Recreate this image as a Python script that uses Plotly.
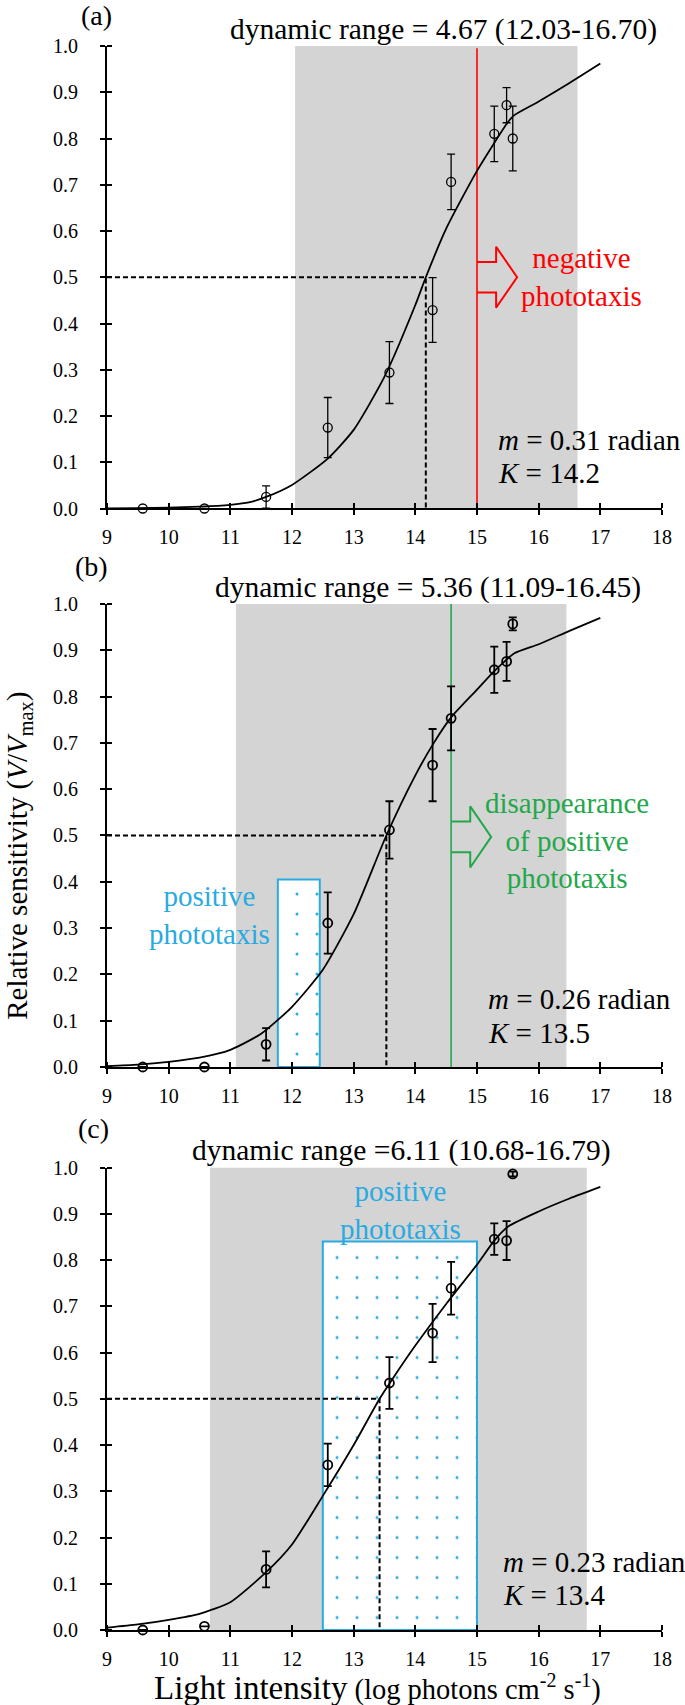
import plotly.graph_objects as go

FONT = "Liberation Serif, Times New Roman, serif"
CYAN = "#29ABE2"
GREEN = "#22A84A"
RED = "#FF0000"
GRAY = "#D4D4D4"

# ---------------- data ----------------
intensity = [9.58, 10.58, 11.58, 12.58, 13.58, 14.28, 14.58, 15.28, 15.48, 15.58]

sens_a = [0.0, 0.0, 0.025, 0.175, 0.294, 0.429, 0.706, 0.81, 0.872, 0.80]
err_a = [0.0, 0.0, 0.024, 0.065, 0.067, 0.07, 0.06, 0.06, 0.038, 0.07]
sens_b = [0.0, 0.0, 0.049, 0.311, 0.512, 0.652, 0.753, 0.858, 0.876, 0.957]
err_b = [0.0, 0.0, 0.035, 0.066, 0.062, 0.078, 0.069, 0.05, 0.042, 0.014]
sens_c = [0.0, 0.008, 0.131, 0.357, 0.534, 0.642, 0.739, 0.845, 0.842, 0.986]
err_c = [0.0, 0.0, 0.039, 0.046, 0.056, 0.063, 0.057, 0.034, 0.042, 0.005]

fit_x_a = [9.0, 9.5, 10.0, 10.5, 11.0, 11.3, 11.58, 12.0, 12.58, 13.0, 13.5, 14.0, 14.17, 14.5, 15.0, 15.5, 15.6, 16.0, 16.5, 17.0]
fit_y_a = [0.000, 0.001, 0.002, 0.004, 0.008, 0.013, 0.025, 0.051, 0.108, 0.17, 0.285, 0.44, 0.50, 0.605, 0.73, 0.835, 0.85, 0.88, 0.92, 0.962]
fit_x_b = [9.0, 9.5, 10.0, 10.5, 11.0, 11.5, 12.0, 12.5, 13.0, 13.53, 14.0, 14.3, 14.58, 15.0, 15.28, 15.6, 16.0, 16.5, 17.0]
fit_y_b = [0.002, 0.005, 0.011, 0.02, 0.037, 0.072, 0.13, 0.21, 0.33, 0.50, 0.63, 0.70, 0.755, 0.815, 0.855, 0.893, 0.913, 0.942, 0.97]
fit_x_c = [9.0, 9.5, 10.0, 10.5, 11.0, 11.58, 12.0, 12.5, 13.0, 13.42, 13.6, 14.0, 14.5, 15.0, 15.28, 15.5, 16.0, 16.5, 17.0]
fit_y_c = [0.005, 0.012, 0.022, 0.035, 0.06, 0.125, 0.185, 0.29, 0.40, 0.50, 0.537, 0.615, 0.705, 0.79, 0.842, 0.872, 0.905, 0.933, 0.958]

K_values = [14.17, 13.53, 13.42]
m_values = [0.31, 0.26, 0.23]
dr_text = ["dynamic range = 4.67 (12.03-16.70)",
           "dynamic range = 5.36 (11.09-16.45)",
           "dynamic range =6.11 (10.68-16.79)"]
shade_lo = [12.05, 11.09, 10.67]
shade_hi = [16.63, 16.45, 16.78]
panel_labels = ["(a)", "(b)", "(c)"]

threshold_neg = 15.0      # panel a, negative phototaxis
threshold_dis = 14.58     # panel b, disappearance of positive phototaxis
pos_lo = [11.77, 12.5]    # positive phototaxis ranges (panel b, c)
pos_hi = [12.45, 15.0]
pos_top = [0.405, 0.84]

x_ticks = list(range(9, 19))
y_ticks = [round(i * 0.1, 1) for i in range(11)]
X0, X1 = 9, 18

# ---------------- figure ----------------
fig = go.Figure()
domains = [[0.70802, 1.0], [0.35543, 0.64773], [0.0, 0.29198]]
sens = [sens_a, sens_b, sens_c]
errs = [err_a, err_b, err_c]
fits = [(fit_x_a, fit_y_a), (fit_x_b, fit_y_b), (fit_x_c, fit_y_c)]
mk_w = [1.3, 1.8, 1.8]
ANN = 29


def xd(v):
    """data x -> x-domain fraction"""
    return (v - X0) / (X1 - X0)


for i in range(3):
    xa = "x" if i == 0 else f"x{i+1}"
    ya = "y" if i == 0 else f"y{i+1}"
    if i >= 1:
        j = i - 1
        fig.add_trace(go.Bar(
            x=[(pos_lo[j] + pos_hi[j]) / 2], y=[pos_top[j]], width=[pos_hi[j] - pos_lo[j]], base=0,
            xaxis=xa, yaxis=ya, showlegend=False, hoverinfo="skip",
            marker=dict(color="white", line=dict(color=CYAN, width=2),
                        pattern=dict(shape=".", fgcolor=CYAN, bgcolor="white", size=20,
                                     solidity=0.018, fillmode="replace"))))
    K = K_values[i]
    fig.add_trace(go.Scatter(x=[X0, K, K], y=[0.5, 0.5, 0], mode="lines", xaxis=xa, yaxis=ya,
                             line=dict(color="black", width=2, dash="5px,3px"),
                             showlegend=False, hoverinfo="skip"))
    fx, fy = fits[i]
    fig.add_trace(go.Scatter(x=fx, y=fy, mode="lines", xaxis=xa, yaxis=ya,
                             line=dict(color="black", width=1.8, shape="spline", smoothing=0.6),
                             showlegend=False, hoverinfo="skip"))
    fig.add_trace(go.Scatter(x=intensity, y=sens[i], mode="markers", xaxis=xa, yaxis=ya,
                             cliponaxis=False,
                             marker=dict(symbol="circle-open", size=9, color="black",
                                         line=dict(color="black", width=mk_w[i])),
                             error_y=dict(type="data", array=errs[i], visible=True, color="black",
                                          thickness=mk_w[i], width=4),
                             showlegend=False))
    fig.add_shape(type="rect", xref=xa, yref=ya, x0=shade_lo[i], x1=shade_hi[i], y0=0, y1=1,
                  fillcolor=GRAY, line=dict(width=0), layer="below")


def block_arrow(x0, yc, shaft_len=0.31, head_len=0.34, shaft_half=0.033, head_half=0.066):
    xs = [x0, x0 + shaft_len, x0 + shaft_len, x0 + shaft_len + head_len, x0 + shaft_len, x0 + shaft_len, x0]
    ys = [yc + shaft_half, yc + shaft_half, yc + head_half, yc, yc - head_half, yc - shaft_half, yc - shaft_half]
    return xs, ys


fig.add_shape(type="line", xref="x", yref="y", x0=threshold_neg, x1=threshold_neg, y0=0, y1=0.995,
              line=dict(color=RED, width=1.6), layer="below")
ax_, ay_ = block_arrow(threshold_neg, 0.5)
fig.add_trace(go.Scatter(x=ax_, y=ay_, mode="lines", xaxis="x", yaxis="y",
                         line=dict(color=RED, width=2), showlegend=False, hoverinfo="skip"))

fig.add_shape(type="line", xref="x2", yref="y2", x0=threshold_dis, x1=threshold_dis, y0=0, y1=1.0,
              line=dict(color=GREEN, width=1.6), layer="below")
gx_, gy_ = block_arrow(threshold_dis, 0.497)
fig.add_trace(go.Scatter(x=gx_, y=gy_, mode="lines", xaxis="x2", yaxis="y2",
                         line=dict(color=GREEN, width=2), showlegend=False, hoverinfo="skip"))

# axes
tickfont = dict(family=FONT, size=20, color="black")
layout_axes = {}
for i in range(3):
    xk = "xaxis" if i == 0 else f"xaxis{i+1}"
    yk = "yaxis" if i == 0 else f"yaxis{i+1}"
    ya = "y" if i == 0 else f"y{i+1}"
    xa = "x" if i == 0 else f"x{i+1}"
    layout_axes[xk] = dict(showline=True, linecolor="black", linewidth=2, ticks="outside", ticklen=5,
                           tickwidth=2, tickcolor="black", showgrid=False, zeroline=False,
                           tickfont=tickfont, range=[X0, X1], tickmode="array", tickvals=x_ticks,
                           anchor=ya, domain=[0, 1], ticklabelstandoff=5,
                           minor=dict(tickmode="array", tickvals=x_ticks, ticks="inside",
                                      ticklen=5, tickwidth=2, tickcolor="black"))
    layout_axes[yk] = dict(showline=True, linecolor="black", linewidth=2, ticks="outside", ticklen=5,
                           tickwidth=2, tickcolor="black", showgrid=False, zeroline=False,
                           tickfont=tickfont, range=[0, 1], tickmode="array", tickvals=y_ticks,
                           tickformat=".1f", anchor=xa, domain=domains[i], ticklabelstandoff=18,
                           minor=dict(tickmode="array", tickvals=y_ticks, ticks="inside",
                                      ticklen=5, tickwidth=2, tickcolor="black"))

annotations = []
dr_pos = [(14.46, 1.035), (14.21, 1.036), (13.77, 1.036)]
lab_pos = [(8.83, 1.067), (8.75, 1.081), (8.78, 1.085)]
mk_pos = [(15.31, 0.149, 0.076), (15.14, 0.147, 0.073), (15.39, 0.148, 0.075)]
for i in range(3):
    xdom = "x domain" if i == 0 else f"x{i+1} domain"
    ydom = "y domain" if i == 0 else f"y{i+1} domain"
    annotations.append(dict(text=panel_labels[i], x=xd(lab_pos[i][0]), y=lab_pos[i][1], xref=xdom, yref=ydom,
                            showarrow=False, font=dict(family=FONT, size=28, color="black"),
                            xanchor="center", yanchor="middle"))
    annotations.append(dict(text=dr_text[i], x=xd(dr_pos[i][0]), y=dr_pos[i][1], xref=xdom, yref=ydom,
                            showarrow=False, font=dict(family=FONT, size=29.5, color="black"),
                            xanchor="center", yanchor="middle"))
    annotations.append(dict(text=f"<i>m</i> = {m_values[i]:.2f} radian", x=xd(mk_pos[i][0]), y=mk_pos[i][1],
                            xref=xdom, yref=ydom, showarrow=False,
                            font=dict(family=FONT, size=ANN, color="black"),
                            xanchor="left", yanchor="middle"))
    annotations.append(dict(text=f"<i>K</i> = {K_values[i]:.1f}", x=xd(mk_pos[i][0]), y=mk_pos[i][2],
                            xref=xdom, yref=ydom, showarrow=False,
                            font=dict(family=FONT, size=ANN, color="black"),
                            xanchor="left", yanchor="middle"))

annotations.append(dict(text="negative<br>phototaxis", x=xd(16.70), y=0.501, xref="x domain", yref="y domain",
                        showarrow=False, font=dict(family=FONT, size=ANN, color=RED),
                        xanchor="center", yanchor="middle"))
annotations.append(dict(text="disappearance<br>of positive<br>phototaxis", x=xd(16.46), y=0.489,
                        xref="x2 domain", yref="y2 domain", showarrow=False,
                        font=dict(family=FONT, size=ANN, color=GREEN),
                        xanchor="center", yanchor="middle"))
annotations.append(dict(text="positive<br>phototaxis", x=xd(10.66), y=0.3275, xref="x2 domain", yref="y2 domain",
                        showarrow=False, font=dict(family=FONT, size=ANN, color=CYAN),
                        xanchor="center", yanchor="middle"))
annotations.append(dict(text="positive<br>phototaxis", x=xd(13.76), y=0.909, xref="x3 domain", yref="y3 domain",
                        showarrow=False, font=dict(family=FONT, size=ANN, color=CYAN),
                        xanchor="center", yanchor="middle"))
annotations.append(dict(text="Relative sensitivity (<i>V</i>/<i>V</i><sub>max</sub>)",
                        x=-0.160, y=0.4889, xref="paper", yref="paper", textangle=-90,
                        showarrow=False, font=dict(family=FONT, size=29, color="black"),
                        xanchor="center", yanchor="middle"))
annotations.append(dict(text="<span style='font-size:33px'>Light intensity</span> (log photons cm<sup>-2</sup> s<sup>-1</sup>)",
                        x=0.488, y=-0.0366, xref="paper", yref="paper",
                        showarrow=False, font=dict(family=FONT, size=28.5, color="black"),
                        xanchor="center", yanchor="middle"))

fig.update_layout(
    width=685, height=1705,
    margin=dict(l=107, r=23, t=46, b=75),
    paper_bgcolor="white", plot_bgcolor="white",
    showlegend=False,
    annotations=annotations,
    font=dict(family=FONT, color="black"),
    **layout_axes,
)

fig.write_html("out.html", config={"displayModeBar": False},
               post_script="document.body.style.margin='0px';")
